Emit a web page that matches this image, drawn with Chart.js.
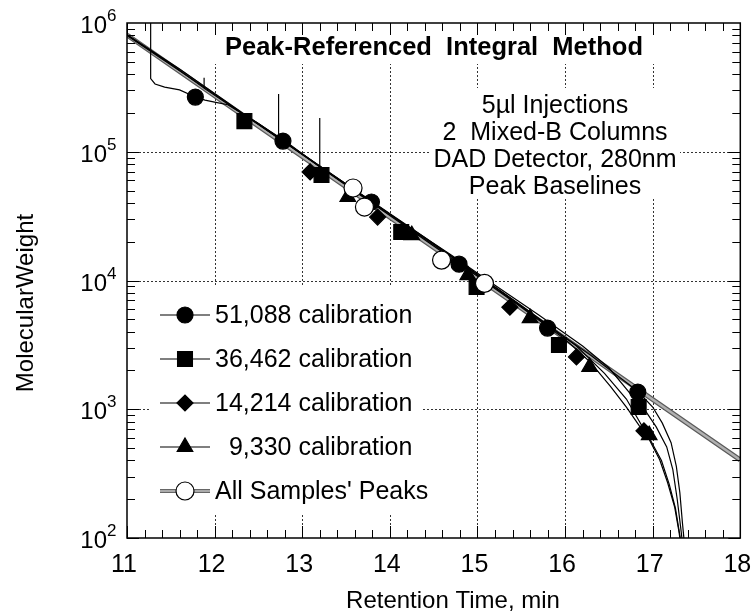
<!DOCTYPE html>
<html>
<head>
<meta charset="utf-8">
<script src="https://cdn.jsdelivr.net/npm/chart.js@4.4.1/dist/chart.umd.min.js"></script>
<style>
  html, body { margin: 0; padding: 0; background: #fff; }
  canvas { display: block; }
</style>
</head>
<body>
<canvas id="chart" width="752" height="615"></canvas>
<script>
// legend names
const seriesNames = ['51,088 calibration', '36,462 calibration', '14,214 calibration', '  9,330 calibration', "All Samples' Peaks"];

// calibration points (retention time, molecular weight)
const circleX = [11.78, 12.78, 13.79, 14.79, 15.80, 16.83];
const circleY = [266000, 121000, 40700, 13400, 4270, 1360];
const squareX = [12.34, 13.22, 14.13, 14.99, 15.93, 16.84];
const squareY = [173000, 66000, 23800, 8900, 3150, 1040];
const diamondX = [13.09, 13.86, 14.62, 15.37, 16.13, 16.90];
const diamondY = [69700, 31100, 14300, 6200, 2550, 680];
const triangleX = [13.52, 14.25, 14.89, 15.60, 16.28, 16.96];
const triangleY = [44600, 22500, 11000, 5100, 2130, 630];
const peakX = [13.58, 13.71, 14.59, 15.08];
const peakY = [52300, 37200, 14400, 9500];

// fitted calibration curves
const fitAX = [11.27, 11.27, 11.32, 11.43, 11.60, 11.78, 11.89, 12.00, 12.15, 12.50, 12.73, 12.73, 12.73, 13.30, 13.80, 14.30, 14.80, 15.30, 15.80, 16.30, 16.83, 17.00, 17.11, 17.21, 17.27, 17.31, 17.34, 17.37];
const fitAY = [1000000, 370000, 336000, 318000, 302000, 266000, 252000, 243000, 232000, 166000, 129000, 281000, 129000, 69500, 40800, 23500, 13800, 7900, 4500, 2600, 1380, 1040, 780, 550, 360, 225, 130, 80];
const fitBX = [11.00, 11.60, 12.34, 12.80, 13.20, 13.20, 13.20, 13.70, 14.20, 14.70, 15.20, 15.70, 16.20, 16.50, 16.84, 16.91, 17.04, 17.16, 17.23, 17.28, 17.32, 17.35];
const fitBY = [810000, 440000, 195000, 122000, 76500, 183000, 76500, 45000, 26500, 15800, 9200, 5400, 3100, 2100, 1100, 990, 730, 510, 340, 200, 120, 80];
const fitCX = [11.00, 11.50, 11.88, 11.88, 11.88, 12.50, 13.10, 13.70, 14.30, 14.90, 15.50, 16.13, 16.45, 16.70, 16.90, 17.08, 17.17, 17.25, 17.30, 17.33];
const fitCY = [810000, 480000, 312000, 375000, 312000, 163000, 86000, 45500, 24000, 12500, 6400, 3100, 1900, 1200, 700, 405, 270, 175, 112, 80];
const fitDX = [11.00, 12.00, 13.00, 13.50, 14.00, 14.50, 15.00, 15.50, 16.00, 16.28, 16.52, 16.70, 16.85, 16.96, 17.10, 17.19, 17.26, 17.31, 17.34];
const fitDY = [800000, 280000, 95000, 55000, 32000, 18500, 10800, 6200, 3500, 2350, 1500, 1040, 740, 600, 400, 260, 170, 105, 75];

// all-samples fit (grey band)
const bandX = [11.0, 12.0, 13.0, 14.0, 15.0, 16.0, 17.0, 18.0];
const bandY = [807000, 272000, 92000, 31000, 10500, 3540, 1190, 403];

// axis ticks
const xTicks = [11, 12, 13, 14, 15, 16, 17, 18];
const yExps = [2, 3, 4, 5, 6];

const FONT = '"Liberation Sans", Arial, Helvetica, sans-serif';
const pts = (xs, ys) => xs.map((x, i) => ({ x: x, y: ys[i] }));

function fitLine(xs, ys) {
  return { data: pts(xs, ys), showLine: true, borderColor: '#000', borderWidth: 1.2,
    pointRadius: 0, tension: 0, order: 3 };
}
function markers(xs, ys, style, r, fill) {
  return { data: pts(xs, ys), showLine: false, pointStyle: style, pointRadius: r,
    backgroundColor: fill, borderColor: '#000', borderWidth: 1.2, order: fill === '#fff' ? 0 : 1 };
}

const legendRows = [
  { style: 'circle', r: 8, fill: '#000', band: false },
  { style: 'rect', r: 10.5, fill: '#000', band: false },
  { style: 'rectRot', r: 8, fill: '#000', band: false },
  { style: 'triangle', r: 9, fill: '#000', band: false },
  { style: 'circle', r: 9, fill: '#fff', band: true },
];

const frame = {
  id: 'frame',
  beforeDatasetsDraw(chart) {
    const { ctx, chartArea: a, scales: { x, y } } = chart;
    ctx.save();
    ctx.strokeStyle = '#333';
    ctx.lineWidth = 1;
    ctx.setLineDash([2, 2]);
    ctx.beginPath();
    xTicks.slice(1, -1).forEach(v => {
      const px = Math.round(x.getPixelForValue(v)) + 0.5;
      ctx.moveTo(px, a.top); ctx.lineTo(px, a.bottom);
    });
    yExps.slice(1, -1).forEach(e => {
      const py = Math.round(y.getPixelForValue(Math.pow(10, e))) + 0.5;
      ctx.moveTo(a.left, py); ctx.lineTo(a.right, py);
    });
    ctx.stroke();
    ctx.setLineDash([]);
    // blank panels behind title, notes and legend
    ctx.fillStyle = '#fff';
    ctx.fillRect(205, a.top + 1, 458, 40);
    ctx.fillRect(430, 88, 250, 110);
    ctx.fillRect(150, 287, 272, 226);
    ctx.restore();
  },
  afterDraw(chart) {
    const { ctx, chartArea: a, scales: { x, y } } = chart;
    ctx.save();
    ctx.strokeStyle = '#000';
    ctx.lineWidth = 1.5;
    ctx.strokeRect(a.left, a.top, a.right - a.left, a.bottom - a.top);

    // x ticks, top and bottom, pointing inward
    ctx.lineWidth = 1;
    ctx.beginPath();
    for (let i = 0; i <= 35; i++) {
      const v = 11 + i * 0.2;
      const px = Math.round(x.getPixelForValue(v)) + 0.5;
      const len = i % 5 === 0 ? 12 : 8;
      ctx.moveTo(px, a.bottom); ctx.lineTo(px, a.bottom - len);
      ctx.moveTo(px, a.top); ctx.lineTo(px, a.top + len);
    }
    // y ticks, log minor
    for (let e = 2; e < 6; e++) {
      for (let m = 1; m <= 9; m++) {
        const py = Math.round(y.getPixelForValue(m * Math.pow(10, e))) + 0.5;
        const len = m === 1 ? 12 : 8;
        ctx.moveTo(a.left, py); ctx.lineTo(a.left + len, py);
        ctx.moveTo(a.right, py); ctx.lineTo(a.right - len, py);
      }
    }
    ctx.stroke();

    ctx.fillStyle = '#000';
    // x tick labels
    ctx.font = '25px ' + FONT;
    ctx.textAlign = 'center';
    ctx.textBaseline = 'alphabetic';
    xTicks.forEach(v => ctx.fillText(String(v), x.getPixelForValue(v) - 3, 572));
    // y tick labels 10^n
    yExps.forEach(e => {
      const py = y.getPixelForValue(Math.pow(10, e));
      ctx.font = '24px ' + FONT;
      ctx.textAlign = 'right';
      ctx.fillText('10', 107, py + 10);
      ctx.font = '17px ' + FONT;
      ctx.textAlign = 'left';
      ctx.fillText(String(e), 107, py - 2);
    });
    // axis titles
    ctx.font = '24px ' + FONT;
    ctx.textAlign = 'center';
    ctx.fillText('Retention Time, min', 453, 608);
    ctx.save();
    ctx.translate(33, 303);
    ctx.rotate(-Math.PI / 2);
    ctx.fillText('MolecularWeight', 0, 0);
    ctx.restore();

    // title and notes
    ctx.font = 'bold 25.5px ' + FONT;
    ctx.fillText('Peak-Referenced  Integral  Method', 434, 55);
    ctx.font = '25px ' + FONT;
    ['5\u00B5l Injections', '2  Mixed-B Columns', 'DAD Detector, 280nm', 'Peak Baselines']
      .forEach((t, i) => ctx.fillText(t, 555, 113 + i * 27));

    // legend
    legendRows.forEach((row, i) => {
      const ly = 315 + i * 44;
      if (row.band) {
        ctx.strokeStyle = '#666'; ctx.lineWidth = 4;
        ctx.beginPath(); ctx.moveTo(160, ly); ctx.lineTo(210, ly); ctx.stroke();
        ctx.strokeStyle = '#aaa'; ctx.lineWidth = 2;
        ctx.beginPath(); ctx.moveTo(160, ly); ctx.lineTo(210, ly); ctx.stroke();
      } else {
        ctx.strokeStyle = '#000'; ctx.lineWidth = 1.2;
        ctx.beginPath(); ctx.moveTo(160, ly); ctx.lineTo(210, ly); ctx.stroke();
      }
      ctx.fillStyle = row.fill;
      ctx.strokeStyle = '#000';
      ctx.lineWidth = 1.2;
      Chart.helpers.drawPoint(ctx, { pointStyle: row.style, radius: row.r, rotation: 0, borderWidth: 1.2 }, 185, ly);
      ctx.fillStyle = '#000';
      ctx.font = '25px ' + FONT;
      ctx.textAlign = 'left';
      ctx.textBaseline = 'middle';
      ctx.fillText(seriesNames[i], 215, ly + 1);
    });
    ctx.restore();
  }
};

new Chart(document.getElementById('chart'), {
  type: 'scatter',
  data: {
    datasets: [
      markers(peakX, peakY, 'circle', 9, '#fff'),
      markers(circleX, circleY, 'circle', 8, '#000'),
      markers(squareX, squareY, 'rect', 10.5, '#000'),
      markers(diamondX, diamondY, 'rectRot', 8, '#000'),
      markers(triangleX, triangleY, 'triangle', 9, '#000'),
      fitLine(fitAX, fitAY),
      fitLine(fitBX, fitBY),
      fitLine(fitCX, fitCY),
      fitLine(fitDX, fitDY),
      { data: pts(bandX, bandY), showLine: true, borderColor: '#b0b0b0', borderWidth: 2.5, pointRadius: 0, order: 4 },
      { data: pts(bandX, bandY), showLine: true, borderColor: '#5a5a5a', borderWidth: 5, pointRadius: 0, order: 5 },
    ]
  },
  options: {
    responsive: false,
    animation: false,
    layout: { padding: { left: 127, right: 11, top: 23, bottom: 77 } },
    plugins: { legend: { display: false }, tooltip: { enabled: false } },
    scales: {
      x: { type: 'linear', min: 11, max: 18, display: false },
      y: { type: 'logarithmic', min: 100, max: 1000000, display: false }
    }
  },
  plugins: [frame]
});
</script>
</body>
</html>
